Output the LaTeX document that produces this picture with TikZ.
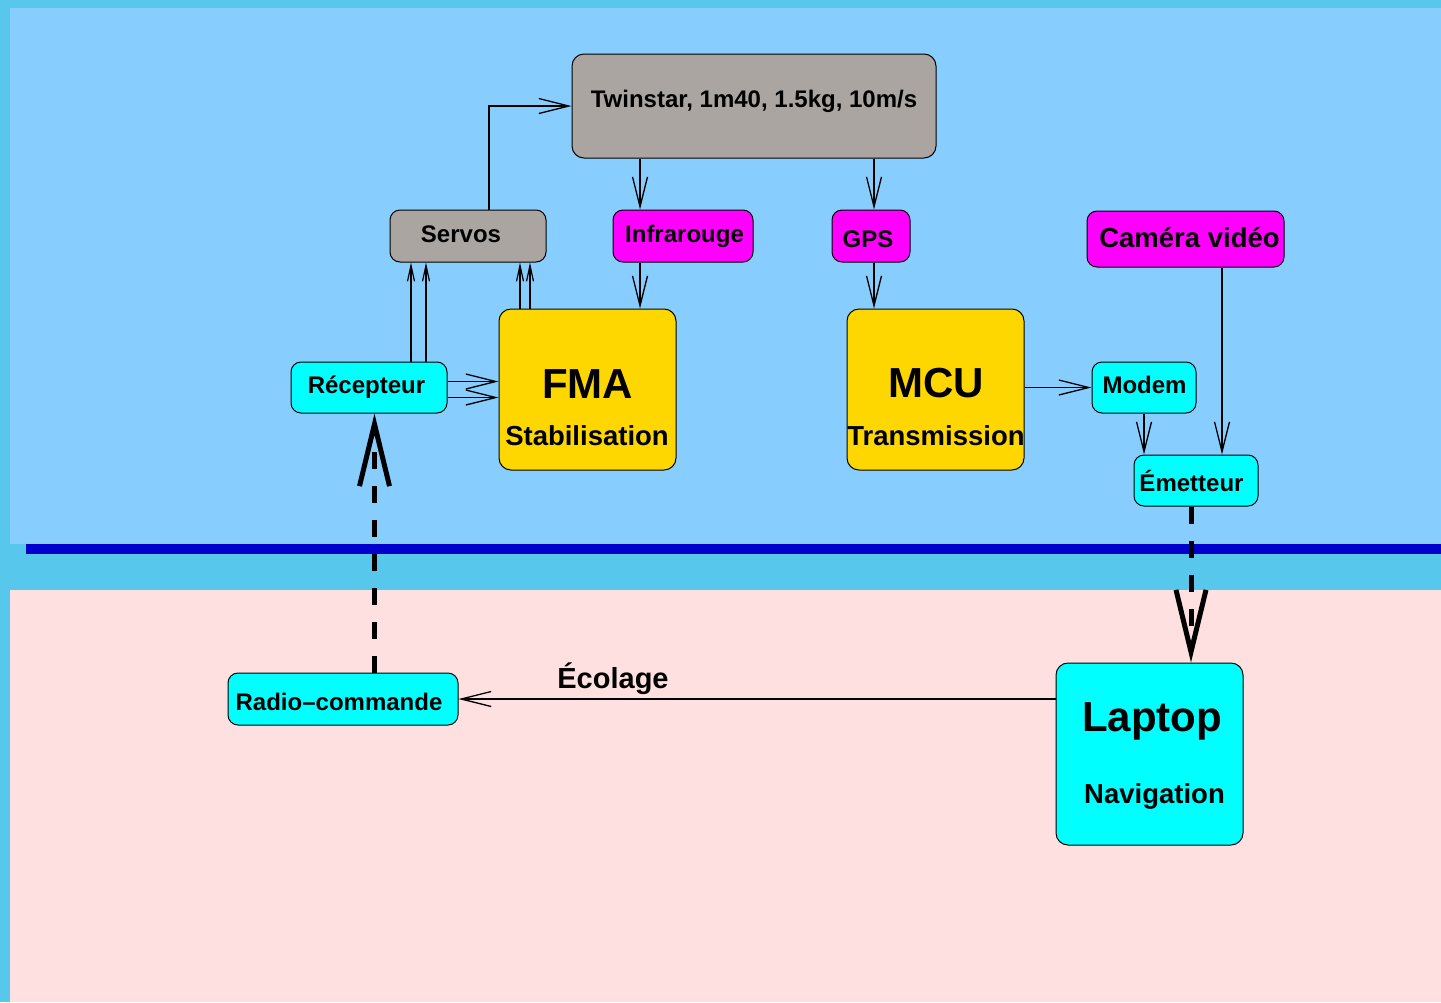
\documentclass[tikz,border=0pt]{standalone}
\usepackage{fontspec}
\setmainfont{Liberation Sans}
\usetikzlibrary{arrows.meta}
\definecolor{bgout}{RGB}{87,200,235}
\definecolor{skyb}{RGB}{135,206,255}
\definecolor{bandb}{RGB}{0,0,205}
\definecolor{pinkb}{RGB}{255,224,224}
\definecolor{greyb}{RGB}{170,165,160}
\definecolor{magb}{RGB}{255,0,255}
\definecolor{cyanb}{RGB}{0,255,255}
\definecolor{goldb}{RGB}{255,215,0}
\newcommand\fsmall{\fontsize{24}{28}\selectfont\bfseries}
\newcommand\fmid{\fontsize{27.5}{32}\selectfont\bfseries}
\newcommand\fbig{\fontsize{42}{48}\selectfont\bfseries}
\tikzset{
  box/.style={draw=black, line width=1pt, rounded corners=10pt, inner sep=0pt},
  bigbox/.style={box, rounded corners=12pt},
  txt/.style={anchor=base, inner sep=0pt, text=black},
  arr/.style={line width=1.3pt, -{Straight Barb[length=30pt,width=15pt]}},
  sarr/.style={line width=1.2pt, -{Straight Barb[length=16pt,width=7pt]}},
  darr/.style={line width=5pt, dash pattern=on 17pt off 17pt, -{Straight Barb[length=62pt,width=30pt]}}
}
\begin{document}
\begin{tikzpicture}[x=1pt,y=-1pt]
\useasboundingbox (0,0) rectangle (1441,1002);
% backgrounds
\fill[bgout] (0,0) rectangle (1441,1002);
\fill[skyb] (10,8) rectangle (1441,544);
\fill[bandb] (26,544) rectangle (1441,554);
\fill[pinkb] (10,590) rectangle (1441,1002);
% boxes
\node[bigbox, fill=greyb, minimum width=364pt, minimum height=104pt] (twin) at (754,106) {};
\node[box, fill=greyb, minimum width=156pt, minimum height=52pt] (servos) at (468,236) {};
\node[box, fill=magb, minimum width=140pt, minimum height=52pt] (infra) at (683,236) {};
\node[box, fill=magb, minimum width=78pt, minimum height=52pt] (gps) at (871,236) {};
\node[box, fill=magb, minimum width=197pt, minimum height=56pt] (camera) at (1185.5,239) {};
\node[box, fill=cyanb, minimum width=156pt, minimum height=51pt] (recep) at (369,387.5) {};
\node[bigbox, fill=goldb, minimum width=177pt, minimum height=161pt] (fma) at (587.5,389.5) {};
\node[bigbox, fill=goldb, minimum width=177pt, minimum height=161pt] (mcu) at (935.5,389.5) {};
\node[box, fill=cyanb, minimum width=104pt, minimum height=51pt] (modem) at (1144,387.5) {};
\node[box, fill=cyanb, minimum width=124pt, minimum height=51pt] (emet) at (1196,480.5) {};
\node[box, fill=cyanb, minimum width=230pt, minimum height=52pt] (radio) at (343,699) {};
\node[bigbox, fill=cyanb, minimum width=187pt, minimum height=182pt] (laptop) at (1149.5,754) {};
% texts
\node[txt, font=\fsmall] (twinT) at (754,107) {Twinstar, 1m40, 1.5kg, 10m/s};
\node[txt, font=\fsmall] (servosT) at (461,242) {Servos};
\node[txt, font=\fsmall] (infraT) at (684.5,242) {Infrarouge};
\node[txt, font=\fsmall] (gpsT) at (868,247) {GPS};
\node[txt, font=\fmid] (cameraT) at (1189.5,247) {Caméra vidéo};
\node[txt, font=\fsmall] (recepT) at (366.5,393) {Récepteur};
\node[txt, font=\fbig] (fmaT) at (587.5,398) {FMA};
\node[txt, font=\fmid] (fmaT2) at (587,445) {Stabilisation};
\node[txt, font=\fbig] (mcuT) at (936,397) {MCU};
\node[txt, font=\fmid] (mcuT2) at (936,445) {Transmission};
\node[txt, font=\fsmall] (modemT) at (1144.5,393) {Modem};
\node[txt, font=\fsmall] (emetT) at (1191.5,491) {Émetteur};
\node[txt, font=\fsmall] (radioT) at (339,710) {Radio–commande};
\node[txt, font=\fontsize{29}{34}\selectfont\bfseries] (ecolT) at (613,688) {Écolage};
\node[txt, font=\fbig] (laptopT) at (1152,731) {Laptop};
\node[txt, font=\fmid] (laptopT2) at (1154.5,803) {Navigation};
% connectors
\draw[arr] ([xshift=21pt]servos.north) |- (twin.west);
\draw[arr] ([xshift=-114pt]twin.south) coordinate (c1) -- (c1 |- infra.north);
\draw[arr] ([xshift=120pt]twin.south) coordinate (c2) -- (c2 |- gps.north);
\draw[arr] ([xshift=-43pt]infra.south) coordinate (c3) -- (c3 |- fma.north);
\draw[arr] ([xshift=3pt]gps.south) coordinate (c4) -- (c4 |- mcu.north);
\draw[sarr] ([xshift=42pt]recep.north) coordinate (c5) -- (c5 |- servos.south);
\draw[sarr] ([xshift=57pt]recep.north) coordinate (c6) -- (c6 |- servos.south);
\draw[sarr] ([xshift=-67.5pt]fma.north) coordinate (c7) -- (c7 |- servos.south);
\draw[sarr] ([xshift=-57.5pt]fma.north) coordinate (c8) -- (c8 |- servos.south);
\draw[arr] ([yshift=6pt]recep.east) coordinate (c9) -- (c9 -| fma.west);
\draw[arr] ([yshift=-10pt]recep.east) coordinate (c10) -- (c10 -| fma.west);
\draw[arr] ([yshift=2pt]mcu.east) coordinate (c11) -- (c11 -| modem.west);
\draw[arr] (modem.south) -- (modem.south |- emet.north);
\draw[arr] ([xshift=36.5pt]camera.south) coordinate (c12) -- (c12 |- emet.north);
\draw[darr] ([xshift=-5pt]emet.south) coordinate (c13) -- (c13 |- laptop.north);
\draw[darr] ([xshift=31.5pt]radio.north) coordinate (c14) -- (c14 |- recep.south);
\draw[arr] ([yshift=55pt]laptop.west) coordinate (c15) -- (c15 -| radio.east);
\end{tikzpicture}
\end{document}
